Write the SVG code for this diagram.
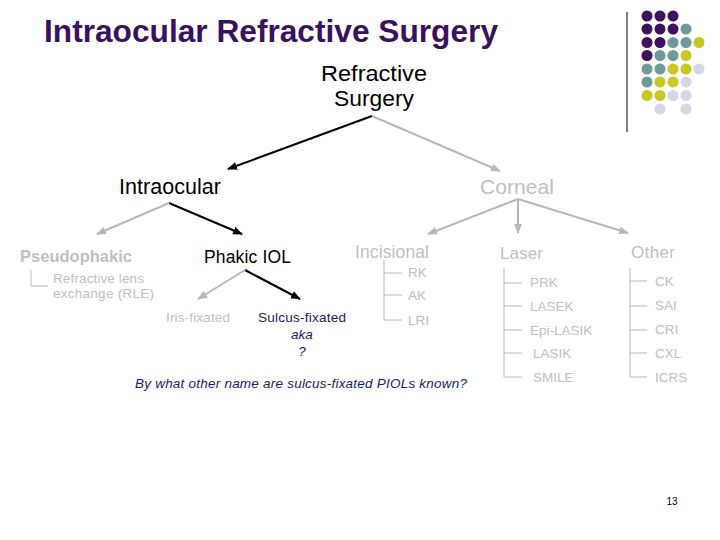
<svg xmlns="http://www.w3.org/2000/svg" width="720" height="540" viewBox="0 0 720 540">
<defs>
<marker id="ab" markerWidth="10" markerHeight="8" refX="9" refY="4" orient="auto" markerUnits="userSpaceOnUse"><path d="M0,0 L10,4 L0,8 Z" fill="#000"/></marker>
<marker id="ag" markerWidth="10" markerHeight="8" refX="9" refY="4" orient="auto" markerUnits="userSpaceOnUse"><path d="M0,0 L10,4 L0,8 Z" fill="#b8b8b8"/></marker>
<style>
text{font-family:"Liberation Sans",Arial,sans-serif}
.g{fill:#c0c0c0}
.k{fill:#000}
.n{fill:#1a1a6e}
.s{font-size:13.5px}
.ab{stroke:#000;stroke-width:2;fill:none;marker-end:url(#ab)}
.ag{stroke:#b8b8b8;stroke-width:2;fill:none;marker-end:url(#ag)}
.t{stroke:#b8b8b8;stroke-width:1;fill:none}
.p{fill:#3d1060}.q{fill:#6e9a9a}.y{fill:#c8c81e}.l{fill:#d6d6e6}
</style>
</defs>
<rect width="720" height="540" fill="#fff"/>
<g id="title"><text x="44" y="42" font-size="31" font-weight="bold" fill="#3a1060" textLength="454" lengthAdjust="spacingAndGlyphs">Intraocular Refractive Surgery</text></g>
<g id="deco">
<line x1="627" y1="12" x2="627" y2="132" stroke="#000" stroke-width="1"/>
<circle class="p" cx="647" cy="16" r="5.5"/><circle class="p" cx="660" cy="16" r="5.5"/><circle class="p" cx="673" cy="16" r="5.5"/>
<circle class="p" cx="647" cy="29" r="5.5"/><circle class="p" cx="660" cy="29" r="5.5"/><circle class="p" cx="673" cy="29" r="5.5"/><circle class="q" cx="686" cy="29" r="5.5"/>
<circle class="p" cx="647" cy="42.5" r="5.5"/><circle class="p" cx="660" cy="42.5" r="5.5"/><circle class="q" cx="673" cy="42.5" r="5.5"/><circle class="q" cx="686" cy="42.5" r="5.5"/><circle class="y" cx="699" cy="42.5" r="5.5"/>
<circle class="p" cx="647" cy="55.5" r="5.5"/><circle class="q" cx="660" cy="55.5" r="5.5"/><circle class="q" cx="673" cy="55.5" r="5.5"/><circle class="y" cx="686" cy="55.5" r="5.5"/>
<circle class="q" cx="647" cy="69" r="5.5"/><circle class="q" cx="660" cy="69" r="5.5"/><circle class="y" cx="673" cy="69" r="5.5"/><circle class="y" cx="686" cy="69" r="5.5"/><circle class="l" cx="699" cy="69" r="5.5"/>
<circle class="q" cx="647" cy="82" r="5.5"/><circle class="y" cx="660" cy="82" r="5.5"/><circle class="y" cx="673" cy="82" r="5.5"/><circle class="l" cx="686" cy="82" r="5.5"/>
<circle class="y" cx="647" cy="95.5" r="5.5"/><circle class="y" cx="660" cy="95.5" r="5.5"/><circle class="l" cx="673" cy="95.5" r="5.5"/><circle class="l" cx="686" cy="95.5" r="5.5"/>
<circle class="l" cx="660" cy="109" r="5.5"/><circle class="l" cx="686" cy="109" r="5.5"/>
</g>
<g id="connectors">
<line class="ab" x1="372" y1="116" x2="228" y2="169"/>
<line class="ag" x1="372" y1="116" x2="500" y2="171"/>
<line class="ab" x1="169" y1="203" x2="242" y2="234"/>
<line class="ag" x1="169" y1="203" x2="97" y2="234"/>
<line class="ab" x1="245" y1="270" x2="300" y2="299"/>
<line class="ag" x1="245" y1="270" x2="198" y2="299"/>
<line class="ag" x1="518" y1="199" x2="428" y2="234"/>
<line class="ag" x1="518" y1="199" x2="518" y2="233"/>
<line class="ag" x1="518" y1="199" x2="628" y2="233"/>
<path class="t" d="M31,270 V286 H48"/>
<path class="t" d="M384,260 V320 H402 M384,273 H402 M384,295 H402"/>
<path class="t" d="M504,268 V377 H522 M504,283 H522 M504,306 H522 M504,330 H522 M504,353 H522"/>
<path class="t" d="M630,268 V377 H647 M630,281 H647 M630,306 H647 M630,330 H647 M630,353 H647"/>
</g>
<g id="root"><text class="k" x="374" y="81" font-size="21.5" text-anchor="middle" textLength="106" lengthAdjust="spacingAndGlyphs">Refractive</text><text class="k" x="374" y="106" font-size="21.5" text-anchor="middle" textLength="80" lengthAdjust="spacingAndGlyphs">Surgery</text></g>
<g id="intraocular"><text class="k" x="119" y="194" font-size="21.5" textLength="102">Intraocular</text></g>
<g id="corneal"><text class="g" x="480" y="194" font-size="21" textLength="74">Corneal</text></g>
<g id="pseudophakic"><text class="g" x="20" y="262" font-size="16.5" font-weight="bold" textLength="112">Pseudophakic</text>
<text class="g s" x="53" y="283" textLength="91">Refractive lens</text><text class="g s" x="53" y="298" textLength="101">exchange (RLE)</text></g>
<g id="phakic"><text class="k" x="204" y="263" font-size="17.5" textLength="87">Phakic IOL</text></g>
<g id="iris"><text class="g s" x="166" y="322" textLength="64">Iris-fixated</text></g>
<g id="sulcus"><text class="n s" x="258" y="322" textLength="88">Sulcus-fixated</text>
<text class="n s" x="302" y="339" text-anchor="middle" font-style="italic">aka</text>
<text class="n s" x="302" y="356" text-anchor="middle" font-style="italic">?</text></g>
<g id="question"><text class="n s" x="135" y="388" font-style="italic" textLength="332">By what other name are sulcus-fixated PIOLs known?</text></g>
<g id="incisional"><text class="g" x="355" y="258" font-size="17.5" textLength="74">Incisional</text>
<text class="g s" x="408" y="277">RK</text><text class="g s" x="408" y="300">AK</text><text class="g s" x="408" y="325">LRI</text></g>
<g id="laser"><text class="g" x="500" y="259" font-size="17" textLength="43">Laser</text>
<text class="g s" x="530" y="287">PRK</text><text class="g s" x="530" y="311">LASEK</text><text class="g s" x="530" y="335">Epi-LASIK</text><text class="g s" x="533" y="358">LASIK</text><text class="g s" x="533" y="382">SMILE</text></g>
<g id="other"><text class="g" x="631" y="258" font-size="17" textLength="44">Other</text>
<text class="g s" x="655" y="286">CK</text><text class="g s" x="655" y="310">SAI</text><text class="g s" x="655" y="334">CRI</text><text class="g s" x="655" y="358">CXL</text><text class="g s" x="655" y="382">ICRS</text></g>
<g id="page"><text class="k" x="672" y="505" font-size="10" text-anchor="middle">13</text></g>
</svg>
